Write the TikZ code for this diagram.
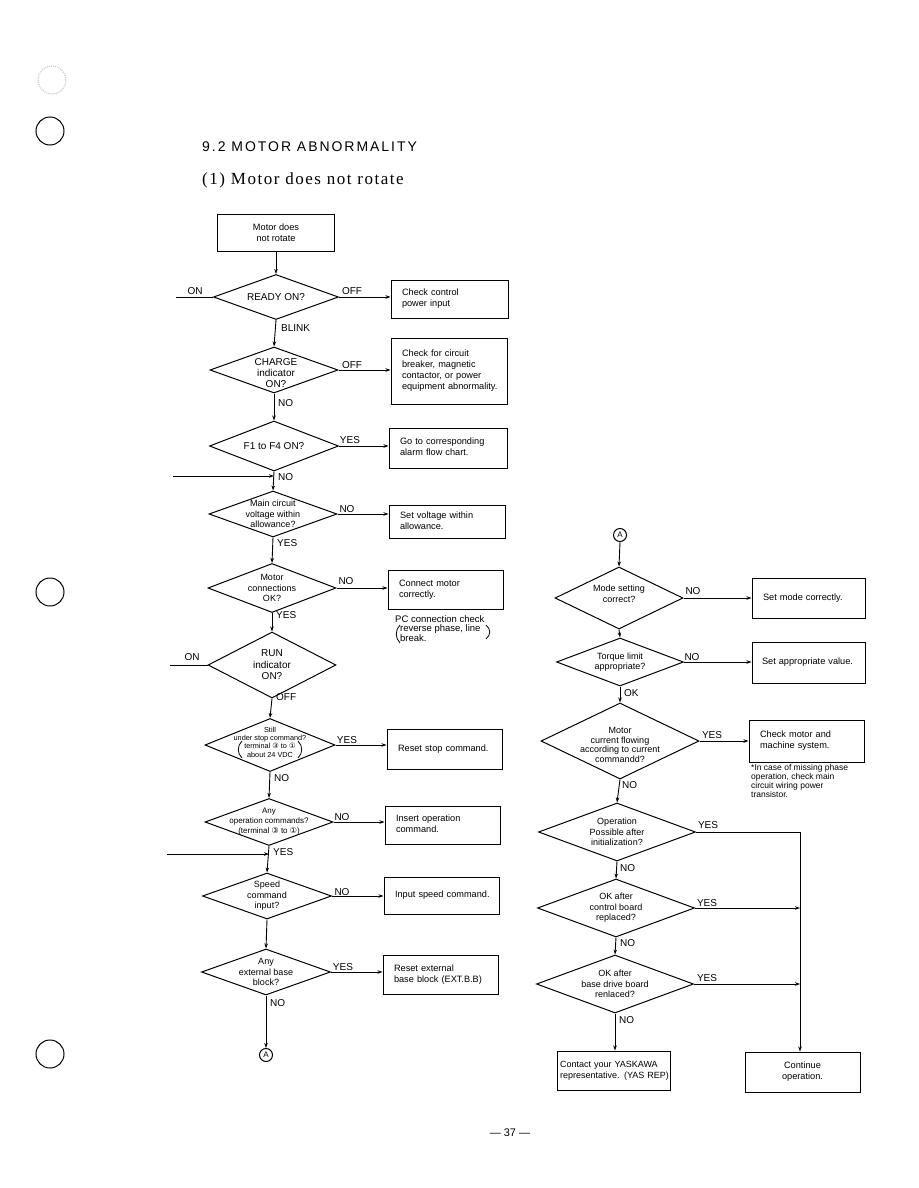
\documentclass[tikz,border=0pt]{standalone}
\usepackage{fontspec}
\setmainfont{Liberation Sans}
\newfontfamily\hdfont[LetterSpace=14]{Liberation Sans}
\newfontfamily\subtfont[LetterSpace=9]{Liberation Serif}
\newfontfamily\symfont{DejaVu Sans}
\usetikzlibrary{shapes.geometric,arrows.meta}
\newcommand\cnum[1]{{\symfont #1}}
\newcommand\ltab[1]{\begin{tabular}{@{}l@{}}#1\end{tabular}}
\begin{document}
\begin{tikzpicture}[x=1pt,y=-1pt,
  box/.style={draw, line width=1pt, inner xsep=11, inner ysep=0, align=left, font=\fontsize{9.2}{11}\selectfont},
  cbox/.style={draw, line width=1pt, inner sep=0, align=center, font=\fontsize{9.2}{11}\selectfont},
  dia/.style={draw, shape=diamond, line width=1pt, inner sep=0},
  dtxt/.style={align=center, inner sep=0, font=\fontsize{9}{10.5}\selectfont},
  lbl/.style={inner sep=0, font=\fontsize{10}{12}\selectfont},
  arr/.style={line width=0.9pt, -{Stealth[length=5pt,width=3.5pt]}},
  ln/.style={line width=0.9pt},
  paren/.style={line width=0.8pt},
  conn/.style={draw, circle, line width=1pt, minimum size=13, inner sep=0, font=\fontsize{8}{8}\selectfont},
  hole/.style={draw, circle, line width=1pt, minimum size=28, inner sep=0},
  note/.style={align=left, inner sep=0, font=\fontsize{9}{10}\selectfont}]
\useasboundingbox (0,0) rectangle (918,1188);
\fill[white] (0,0) rectangle (918,1188);

% punch holes
\node[hole, draw=gray!45, densely dotted] (h0) at (52,80) {};
\node[hole] (h1) at (50,131) {};
\node[hole] (h2) at (50,592) {};
\node[hole] (h3) at (50,1054) {};

% headings
\node[anchor=west, inner sep=0, font={\hdfont\fontsize{14}{16}\selectfont}] (hd) at (202,147) {9.2 MOTOR ABNORMALITY};
\node[anchor=west, inner sep=0, font={\subtfont\fontsize{17}{19}\selectfont}] (sub) at (202,180) {(1) Motor does not rotate};
\node[inner sep=0, font=\fontsize{11}{12}\selectfont] (pg) at (510,1133) {— 37 —};

% ---------------- left column ----------------
\node[cbox, minimum width=117, minimum height=37] (s) at (276,233) {Motor does\\not rotate};

\node[dia, minimum width=125, minimum height=45] (d1) at (276,297) {};
\node[dtxt, font=\fontsize{10}{12}\selectfont] (t1) at (d1) {READY ON?};
\node[box, minimum height=38, text width=95] (b1) at (449.5,299) {\ltab{Check control\\power input}};

\node[dia, minimum width=128, minimum height=46] (d2) at (274,370) {};
\node[dtxt, font=\fontsize{10}{11}\selectfont] (t2) at (276,373) {CHARGE\\indicator\\ON?};
\node[box, minimum height=66, text width=94] (b2) at (449,371) {\ltab{Check for circuit\\breaker, magnetic\\contactor, or power\\equipment abnormality.}};

\node[dia, minimum width=129, minimum height=50] (d3) at (274,446) {};
\node[dtxt, font=\fontsize{10}{12}\selectfont] (t3) at (d3) {F1 to F4 ON?};
\node[box, minimum height=40, text width=96] (b3) at (448,448) {\ltab{Go to corresponding\\alarm flow chart.}};

\node[dia, minimum width=128, minimum height=46] (d4) at (273,514) {};
\node[dtxt] (t4) at (d4) {Main circuit\\voltage within\\allowance?};
\node[box, minimum height=33, text width=94] (b4) at (447,521.5) {\ltab{Set voltage within\\allowance.}};

\node[dia, minimum width=128, minimum height=49] (d5) at (272,588) {};
\node[dtxt] (t5) at (d5) {Motor\\connections\\OK?};
\node[box, minimum height=39, text width=93] (b5) at (445.5,589.5) {\ltab{Connect motor\\correctly.}};
\node[note, anchor=north west, font=\fontsize{9.5}{9.8}\selectfont] (n5) at (395,615) {PC connection check\\\hspace*{5pt}reverse phase, line\\\hspace*{5pt}break.};
\draw[paren] (400,625) .. controls (395,630) and (395,638) .. (400,643);
\draw[paren] (486,625) .. controls (491,629) and (491,635) .. (486,639);

\node[dia, minimum width=128, minimum height=66] (d6) at (272,665) {};
\node[dtxt, font=\fontsize{10}{11.5}\selectfont] (t6) at (d6) {RUN\\indicator\\ON?};

\node[dia, minimum width=130, minimum height=53] (d7) at (270,745) {};
\node[dtxt, font=\fontsize{7.3}{8.4}\selectfont] (t7) at (270,742) {Still\\under stop command?\\terminal \cnum{③} to \cnum{①}\\about 24 VDC};
\draw[paren] (242,741) .. controls (237,746) and (237,753) .. (242,758);
\draw[paren] (298,741) .. controls (303,746) and (303,753) .. (298,758);
\node[box, minimum height=40, text width=93] (b7) at (444.5,749) {\ltab{Reset stop command.}};

\node[dia, minimum width=128, minimum height=47] (d8) at (269,822) {};
\node[dtxt, font=\fontsize{8}{10}\selectfont] (t8) at (d8) {Any\\operation commands?\\(terminal \cnum{③} to \cnum{①})};
\node[box, minimum height=38, text width=93] (b8) at (442.5,825) {\ltab{Insert operation\\command.}};

\node[dia, minimum width=129, minimum height=46] (d9) at (267,896) {};
\node[dtxt] (t9) at (d9) {Speed\\command\\input?};
\node[box, minimum height=37, text width=93] (b9) at (441.5,895.5) {\ltab{Input speed command.}};

\node[dia, minimum width=129, minimum height=46] (d10) at (266,972) {};
\node[dtxt] (t10) at (d10) {Any\\external base\\block?};
\node[box, minimum height=39, text width=93] (b10) at (440.5,974.5) {\ltab{Reset external\\base block (EXT.B.B)}};

\node[conn] (A1) at (266,1055) {A};

\coordinate (on1) at (176,297);
\coordinate (on2) at (170,665);
\coordinate (in1) at (173,476);
\coordinate (in2) at (167,854);

% left connectors
\draw[arr] (s.south) -- (d1.north);
\draw[arr] (d1.east) -- (d1.east -| b1.west);
\draw[ln] (on1) -- (d1.west);
\draw[arr] (d1.south) -- (d2.north);
\draw[arr] (d2.east) -- (d2.east -| b2.west);
\draw[arr] (d2.south) -- (d3.north);
\draw[arr] (d3.east) -- (d3.east -| b3.west);
\draw[arr] (d3.south) -- (d4.north);
\draw[arr] (in1) -- (in1 -| d3.south);
\draw[arr] (d4.east) -- (d4.east -| b4.west);
\draw[arr] (d4.south) -- (d5.north);
\draw[arr] (d5.east) -- (d5.east -| b5.west);
\draw[arr] (d5.south) -- (d6.north);
\draw[ln] (on2) -- (d6.west);
\draw[arr] (d6.south) -- (d7.north);
\draw[arr] (d7.east) -- (d7.east -| b7.west);
\draw[arr] (d7.south) -- (d8.north);
\draw[arr] (d8.east) -- (d8.east -| b8.west);
\draw[arr] (d8.south) -- (d9.north);
\draw[arr] (in2) -- (in2 -| d8.south);
\draw[arr] (d9.east) -- (d9.east -| b9.west);
\draw[arr] (d9.south) -- (d10.north);
\draw[arr] (d10.east) -- (d10.east -| b10.west);
\draw[arr] (d10.south) -- (A1.north);

% left labels
\node[lbl] (l1) at (195,291) {ON};
\node[lbl] (l2) at (352,291) {OFF};
\node[lbl, anchor=west] (l3) at (281,328) {BLINK};
\node[lbl] (l4) at (352,365) {OFF};
\node[lbl, anchor=west] (l5) at (278,403) {NO};
\node[lbl] (l6) at (350,440) {YES};
\node[lbl, anchor=west] (l7) at (278,477) {NO};
\node[lbl] (l8) at (347,509) {NO};
\node[lbl, anchor=west] (l9) at (277,543) {YES};
\node[lbl] (l10) at (346,581) {NO};
\node[lbl, anchor=west] (l11) at (276,615) {YES};
\node[lbl] (l12) at (192,657) {ON};
\node[lbl, anchor=west] (l13) at (276,697) {OFF};
\node[lbl] (l14) at (347,740) {YES};
\node[lbl, anchor=west] (l15) at (274,778) {NO};
\node[lbl] (l16) at (342,817) {NO};
\node[lbl, anchor=west] (l17) at (273,852) {YES};
\node[lbl] (l18) at (342,892) {NO};
\node[lbl] (l19) at (343,967) {YES};
\node[lbl, anchor=west] (l20) at (270,1003) {NO};

% ---------------- right column ----------------
\node[conn] (A2) at (620,535) {A};

\node[dia, minimum width=128, minimum height=62] (d11) at (619,598) {};
\node[dtxt] (t11) at (619,594) {Mode setting\\correct?};
\node[box, minimum height=40, text width=91] (b11) at (808.5,598) {\ltab{Set mode correctly.}};

\node[dia, minimum width=127, minimum height=48] (d12) at (620,662) {};
\node[dtxt] (t12) at (d12) {Torque limit\\appropriate?};
\node[box, minimum height=41, text width=93, inner xsep=10] (b12) at (808.5,662.5) {\ltab{Set appropriate value.}};

\node[dia, minimum width=158, minimum height=76] (d13) at (620,741) {};
\node[dtxt, font=\fontsize{9}{9.5}\selectfont] (t13) at (620,745) {Motor\\current flowing\\according to current\\commandd?};
\node[box, minimum height=42, text width=93] (b13) at (806.5,741) {\ltab{Check motor and\\machine system.}};
\node[note, anchor=north west, font=\fontsize{8.5}{9}\selectfont] (n13) at (751,764) {*In case of missing phase\\operation, check main\\circuit wiring power\\transistor.};

\node[dia, minimum width=157, minimum height=58] (d14) at (617,832) {};
\node[dtxt] (t14) at (d14) {Operation\\Possible after\\initialization?};

\node[dia, minimum width=157, minimum height=58] (d15) at (616,908) {};
\node[dtxt] (t15) at (d15) {OK after\\control board\\replaced?};

\node[dia, minimum width=157, minimum height=58] (d16) at (615,984) {};
\node[dtxt] (t16) at (d16) {OK after\\base drive board\\renlaced?};

\node[box, minimum height=39, text width=107, inner xsep=3, font=\fontsize{9}{11}\selectfont] (b17) at (613.5,1070.5) {\ltab{Contact your YASKAWA\\representative. (YAS REP)}};
\node[cbox, minimum width=115, minimum height=40] (b18) at (802.5,1072) {Continue\\operation.};

\coordinate (j0) at (800,832);

% right connectors
\draw[arr] (A2.south) -- (d11.north);
\draw[arr] (d11.east) -- (d11.east -| b11.west);
\draw[arr] (d11.south) -- (d12.north);
\draw[arr] (d12.east) -- (d12.east -| b12.west);
\draw[arr] (d12.south) -- (d13.north);
\draw[arr] (d13.east) -- (d13.east -| b13.west);
\draw[arr] (d13.south) -- (d14.north);
\draw[arr] (d14.south) -- (d15.north);
\draw[arr] (d15.south) -- (d16.north);
\draw[arr] (d16.south) -- (d16.south |- b17.north);
\draw[ln] (d14.east) -- (j0);
\draw[arr] (j0) -- (j0 |- b18.north);
\draw[arr] (d15.east) -- (d15.east -| j0);
\draw[arr] (d16.east) -- (d16.east -| j0);

% right labels
\node[lbl] (r1) at (693,591) {NO};
\node[lbl] (r2) at (692,657) {NO};
\node[lbl, anchor=west] (r3) at (624,693) {OK};
\node[lbl] (r4) at (712,735) {YES};
\node[lbl, anchor=west] (r5) at (622,785) {NO};
\node[lbl] (r6) at (708,825) {YES};
\node[lbl, anchor=west] (r7) at (620,868) {NO};
\node[lbl] (r8) at (707,903) {YES};
\node[lbl, anchor=west] (r9) at (620,943) {NO};
\node[lbl] (r10) at (707,978) {YES};
\node[lbl, anchor=west] (r11) at (619,1020) {NO};
\end{tikzpicture}
\end{document}
